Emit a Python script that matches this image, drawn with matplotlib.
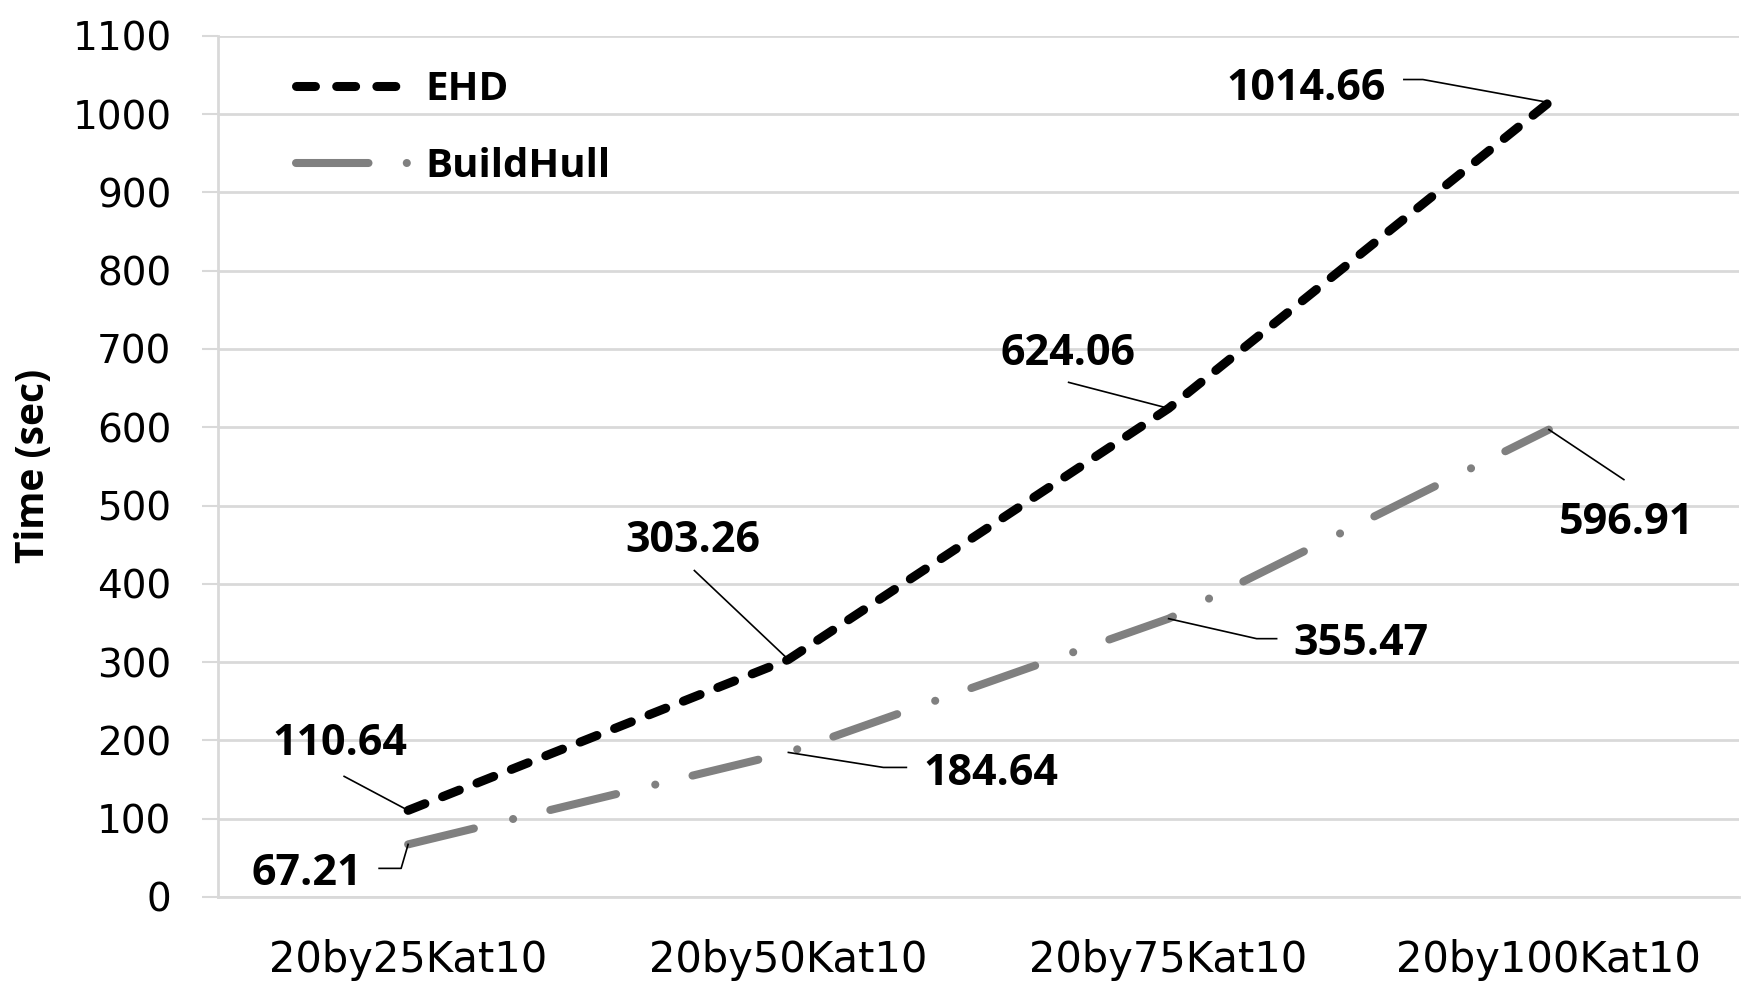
import matplotlib
matplotlib.use("Agg")
import matplotlib.pyplot as plt
from matplotlib.lines import Line2D
from matplotlib.transforms import IdentityTransform

# ---- data ----
categories = ["20by25Kat10", "20by50Kat10", "20by75Kat10", "20by100Kat10"]
ehd = [110.64, 303.26, 624.06, 1014.66]
buildhull = [67.21, 184.64, 355.47, 596.91]
series_names = ["EHD", "BuildHull"]
yticks = [0, 100, 200, 300, 400, 500, 600, 700, 800, 900, 1000, 1100]

# ---- label placement (pixel offsets from the data point, x right / y up) ----
ehd_label_off = [(-68, 72), (-96, 124), (-101, 60), (-243, 19)]
ehd_leader = [[(0, 0), (-64, 34)], [(0, 0), (-94, 89)], [(0, 0), (-100, 26)],
              [(0, 0), (-126, 23), (-145, 23)]]
bh_label_off = [(-101, -24), (202, -16), (192, -20), (78, -88)]
bh_leader = [[(0, 0), (-7, -24), (-29, -24)], [(0, 0), (95, -15), (118, -15)],
             [(0, 0), (88, -20), (108, -20)], [(0, 0), (75, -50)]]

BOLD_FONT = "Open Sans"

W, H, DPI = 1750, 992, 100
fig = plt.figure(figsize=(W / DPI, H / DPI), dpi=DPI)
ax = fig.add_axes([218 / W, 1 - 897 / H, (1739 - 218) / W, (897 - 35.7) / H])

grid_c = "#d9d9d9"
x = list(range(len(categories)))

l1, = ax.plot(x, ehd, color="black", lw=6.5, dashes=(2.0, 2.1),
              dash_capstyle="round", solid_capstyle="round", zorder=3)
l2, = ax.plot(x, buildhull, color="#808080", lw=5.8, dashes=(8.4, 5.0, 0.01, 4.75),
              dash_capstyle="round", solid_capstyle="round", zorder=3)

# legend samples (same styles, dash rhythm as drawn in the legend box)
h1 = Line2D([], [], color="black", lw=6.5, dash_capstyle="round",
            dashes=(2.1, 2.35, 2.1, 2.35, 2.1, 30))
h2 = Line2D([], [], color="#808080", lw=5.8, dash_capstyle="round",
            dashes=(9.0, 4.75, 0.01, 30))

ax.set_xlim(-0.5, len(categories) - 0.5)
ax.set_ylim(0, 1100)
ax.set_yticks(yticks)
ax.set_xticks(x)
ax.set_xticklabels(categories)
ax.yaxis.grid(True, color=grid_c, lw=2.0)
ax.set_axisbelow(True)
for s in ["top", "right"]:
    ax.spines[s].set_visible(False)
for s in ["left", "bottom"]:
    ax.spines[s].set_color(grid_c)
    ax.spines[s].set_linewidth(2.0)
ax.tick_params(axis="y", length=11.5, width=1.5, color=grid_c, pad=22,
               labelsize=28, labelcolor="black")
ax.tick_params(axis="x", length=0, pad=30, labelsize=30, labelcolor="black")
for t in ax.get_xticklabels() + ax.get_yticklabels():
    t.set_family("DejaVu Sans")

ax.set_ylabel("Time (sec)", family=BOLD_FONT, weight="bold", fontsize=28, va="center")
ax.yaxis.set_label_coords((34 - 218) / 1521, 0.5)

leg = fig.legend([h1, h2], series_names, loc="upper left",
                 bbox_to_anchor=(296 / W, 1 - 70 / H), bbox_transform=fig.transFigure,
                 frameon=False, borderpad=0, borderaxespad=0,
                 handlelength=2.8, handletextpad=0.42, labelspacing=0.95,
                 prop=dict(family=BOLD_FONT, weight="bold", size=29))

fig.canvas.draw()

def annotate_series(vals, label_off, leaders):
    for xi, v, off, lead in zip(x, vals, label_off, leaders):
        px, py = ax.transData.transform((xi, v))
        xs = [px + dx for dx, dy in lead]
        ys = [py + dy for dx, dy in lead]
        fig.add_artist(Line2D(xs, ys, color="black", lw=1.2,
                              transform=IdentityTransform(), zorder=4))
        ax.annotate(f"{v:.2f}", xy=(xi, v), xytext=(off[0], off[1] - 5),
                    textcoords="offset pixels", ha="center", va="center",
                    family=BOLD_FONT, weight="bold", fontsize=31, color="black",
                    zorder=5)

annotate_series(ehd, ehd_label_off, ehd_leader)
annotate_series(buildhull, bh_label_off, bh_leader)

fig.savefig("out.png", dpi=DPI, facecolor="white")
